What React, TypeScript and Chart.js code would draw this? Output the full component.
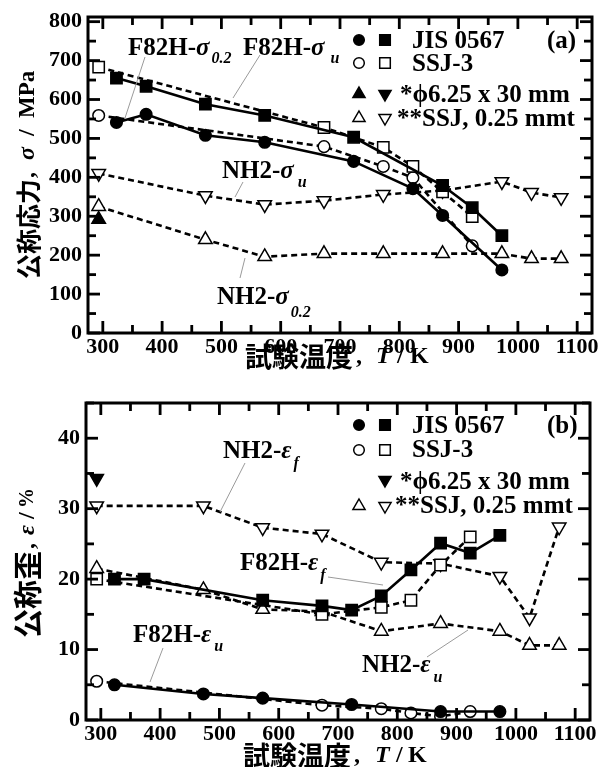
import React, { useEffect, useRef } from 'react';
import { Chart, registerables } from 'chart.js';
Chart.register(...registerables);

const SERIF = '"Liberation Serif", "Times New Roman", serif';
const CJK = '"Noto Sans CJK JP", "Noto Sans CJK SC", sans-serif';

// ---- axes ----
const xTicks = [300, 400, 500, 600, 700, 800, 900, 1000, 1100];
const yTicksA = [0, 100, 200, 300, 400, 500, 600, 700, 800];
const yTicksB = [0, 10, 20, 30, 40];

// ---- panel (a): nominal stress, MPa ----
const tF82H_JIS_su = [323, 373, 473, 573, 723, 873, 923, 973];
const vF82H_JIS_su = [655, 634, 588, 559, 503, 379, 322, 250];
const tF82H_JIS_sy = [323, 373, 473, 573, 723, 823, 873, 973];
const vF82H_JIS_sy = [541, 562, 508, 490, 441, 371, 302, 162];
const tF82H_SSJ_su = [293, 673, 773, 823, 873, 923];
const vF82H_SSJ_su = [683, 528, 477, 428, 363, 299];
const tF82H_SSJ_sy = [293, 673, 773, 823, 923];
const vF82H_SSJ_sy = [559, 479, 428, 399, 224];
const tNH2_su = [293, 473, 573, 673, 773, 873, 973, 1023, 1073];
const vNH2_su = [410, 353, 330, 340, 356, 366, 389, 361, 348];
const tNH2_sy = [293, 473, 573, 673, 773, 873, 973, 1023, 1073];
const vNH2_sy = [325, 240, 196, 204, 204, 204, 204, 191, 191];
const tRod_sy = [293];
const vRod_sy = [292];

// ---- panel (b): nominal strain, % ----
const tNH2_ef = [293, 473, 573, 673, 773, 873, 973, 1023, 1073];
const vNH2_ef = [30.4, 30.4, 27.3, 26.4, 22.4, 22.2, 20.4, 14.5, 27.4];
const tF82H_JIS_ef = [323, 373, 573, 673, 723, 773, 823, 873, 923, 973];
const vF82H_JIS_ef = [20.0, 20.0, 17.0, 16.2, 15.6, 17.6, 21.3, 25.1, 23.7, 26.2];
const tF82H_SSJ_ef = [293, 673, 773, 823, 873, 923];
const vF82H_SSJ_ef = [20.0, 15.0, 16.0, 17.0, 22.0, 26.0];
const tNH2_eu = [293, 473, 573, 673, 773, 873, 973, 1023, 1073];
const vNH2_eu = [21.5, 18.5, 15.7, 15.4, 12.6, 13.7, 12.6, 10.6, 10.6];
const tF82H_JIS_eu = [323, 473, 573, 723, 873, 973];
const vF82H_JIS_eu = [5.0, 3.7, 3.1, 2.2, 1.2, 1.2];
const tF82H_SSJ_eu = [293, 673, 773, 823, 873, 923];
const vF82H_SSJ_eu = [5.5, 2.1, 1.6, 1.0, 0.5, 1.2];
const tRod_ef = [293];
const vRod_ef = [34.3];

// minor tick values for the frame
const xMinorTicks = [300, 350, 400, 450, 500, 550, 600, 650, 700, 750, 800, 850, 900, 950, 1000, 1050, 1100];
const yMinorTicksA = [0, 50, 100, 150, 200, 250, 300, 350, 400, 450, 500, 550, 600, 650, 700, 750, 800];
const yMinorTicksB = [0, 5, 10, 15, 20, 25, 30, 35, 40, 45];

type Mk = 'circle' | 'rect' | 'tri' | 'triDown';

function series(xs: number[], ys: number[], mk: Mk, filled: boolean, line: 'solid' | 'dashed' | 'none') {
  const style = mk === 'circle' ? 'circle' : mk === 'rect' ? 'rect' : 'triangle';
  const r = mk === 'circle' ? 5.8 : mk === 'rect' ? 8 : 7.8;
  return {
    data: xs.map((x, i) => ({ x, y: ys[i] })),
    showLine: line !== 'none',
    borderColor: '#000',
    borderWidth: 2.6,
    borderDash: line === 'dashed' ? [6, 4] : [],
    pointStyle: style,
    pointRotation: mk === 'triDown' ? 180 : 0,
    pointRadius: r,
    pointBackgroundColor: filled ? '#000' : '#fff',
    pointBorderColor: '#000',
    pointBorderWidth: 1.5,
    fill: false,
    tension: 0,
  };
}

const datasetsA = [
  series(tF82H_JIS_su, vF82H_JIS_su, 'rect', true, 'solid'),
  series(tF82H_JIS_sy, vF82H_JIS_sy, 'circle', true, 'solid'),
  series(tF82H_SSJ_su, vF82H_SSJ_su, 'rect', false, 'dashed'),
  series(tF82H_SSJ_sy, vF82H_SSJ_sy, 'circle', false, 'dashed'),
  series(tNH2_su, vNH2_su, 'triDown', false, 'dashed'),
  series(tNH2_sy, vNH2_sy, 'tri', false, 'dashed'),
  series(tRod_sy, vRod_sy, 'tri', true, 'none'),
];

const datasetsB = [
  series(tF82H_JIS_ef, vF82H_JIS_ef, 'rect', true, 'solid'),
  series(tF82H_JIS_eu, vF82H_JIS_eu, 'circle', true, 'solid'),
  series(tF82H_SSJ_ef, vF82H_SSJ_ef, 'rect', false, 'dashed'),
  series(tF82H_SSJ_eu, vF82H_SSJ_eu, 'circle', false, 'dashed'),
  series(tNH2_ef, vNH2_ef, 'triDown', false, 'dashed'),
  series(tNH2_eu, vNH2_eu, 'tri', false, 'dashed'),
  series(tRod_ef, vRod_ef, 'triDown', true, 'none'),
];

function drawMarker(ctx: CanvasRenderingContext2D, mk: Mk, filled: boolean, x: number, y: number) {
  ctx.save();
  ctx.beginPath();
  if (mk === 'circle') {
    ctx.arc(x, y, 5.3, 0, Math.PI * 2);
  } else if (mk === 'rect') {
    ctx.rect(x - 5.3, y - 5.3, 10.6, 10.6);
  } else {
    const r = 7;
    const s = mk === 'tri' ? 1 : -1;
    ctx.moveTo(x, y - s * r);
    ctx.lineTo(x + 0.866 * r, y + s * 0.5 * r);
    ctx.lineTo(x - 0.866 * r, y + s * 0.5 * r);
    ctx.closePath();
  }
  ctx.fillStyle = filled ? '#000' : '#fff';
  ctx.fill();
  ctx.lineWidth = 1.5;
  ctx.strokeStyle = '#000';
  ctx.stroke();
  ctx.restore();
}

type Ann = { x: number; y: number; main: string; sym: string; sub: string; subDx: number; subDy: number };
type Leader = [number, number, number, number];
type LegRow = { y: number; m1?: [Mk, boolean]; m2?: [Mk, boolean]; text: string; tx: number; ty: number };
type Part = { t: string; p: number; font: string };

type Decor = {
  off: number;
  yMajorStep: number;
  yMinor: number[];
  anns: Ann[];
  leaders: Leader[];
  legend: LegRow[];
  panel: { t: string; x: number; y: number };
  xTitle: { y: number; parts: Part[] };
  yTitle: { x: number; parts: Part[] };
};

function makeDecor(d: Decor) {
  return {
    id: 'decor',
    afterDraw(chart: any) {
      const ctx: CanvasRenderingContext2D = chart.ctx;
      const ca = chart.chartArea;
      const left = ca.left, right = ca.right, top = ca.top, bottom = ca.bottom;
      const xs = chart.scales.x;
      const ys = chart.scales.y;

      // ticks (inward on all four sides)
      ctx.save();
      ctx.fillStyle = '#000';
      for (const v of xMinorTicks) {
        const px = xs.getPixelForValue(v);
        const L = v % 100 === 0 ? 12 : 8;
        ctx.fillRect(px - 1.4, bottom - L, 2.8, L);
        ctx.fillRect(px - 1.4, top, 2.8, L);
      }
      for (const v of d.yMinor) {
        const py = ys.getPixelForValue(v);
        const L = v % d.yMajorStep === 0 ? 12 : 8;
        ctx.fillRect(left, py - 1.4, L, 2.8);
        ctx.fillRect(right - L, py - 1.4, L, 2.8);
      }
      ctx.restore();

      ctx.save();
      ctx.setLineDash([]);
      // leaders
      ctx.strokeStyle = '#9a9a9a';
      ctx.lineWidth = 1;
      ctx.beginPath();
      for (const [x1, y1, x2, y2] of d.leaders) {
        ctx.moveTo(x1, y1 - d.off); ctx.lineTo(x2, y2 - d.off);
      }
      ctx.stroke();

      // annotations
      ctx.fillStyle = '#000';
      ctx.textBaseline = 'alphabetic';
      ctx.textAlign = 'left';
      for (const a of d.anns) {
        const y = a.y - d.off;
        ctx.font = `bold 25px ${SERIF}`;
        ctx.fillText(a.main, a.x, y);
        const w1 = ctx.measureText(a.main).width;
        ctx.font = `italic bold 25px ${SERIF}`;
        ctx.fillText(a.sym, a.x + w1, y);
        const w2 = ctx.measureText(a.sym).width;
        ctx.font = `italic bold 16px ${SERIF}`;
        ctx.fillText(a.sub, a.x + w1 + w2 + a.subDx, y + a.subDy);
      }

      // legend
      for (const row of d.legend) {
        if (row.m1) drawMarker(ctx, row.m1[0], row.m1[1], 359, row.y - d.off);
        if (row.m2) drawMarker(ctx, row.m2[0], row.m2[1], 385, row.y - d.off);
        ctx.fillStyle = '#000';
        ctx.font = `bold 25px ${SERIF}`;
        ctx.fillText(row.text, row.tx, row.ty - d.off);
      }
      ctx.font = `bold 25px ${SERIF}`;
      ctx.fillText(d.panel.t, d.panel.x, d.panel.y - d.off);

      // x title
      ctx.textBaseline = 'middle';
      for (const p of d.xTitle.parts) {
        ctx.font = p.font;
        ctx.fillText(p.t, p.p, d.xTitle.y - d.off);
      }
      // y title (rotated)
      for (const p of d.yTitle.parts) {
        ctx.save();
        ctx.translate(d.yTitle.x, p.p - d.off);
        ctx.rotate(-Math.PI / 2);
        ctx.font = p.font;
        ctx.fillText(p.t, 0, 0);
        ctx.restore();
      }

      // frame
      ctx.strokeStyle = '#000';
      ctx.lineWidth = 3;
      ctx.strokeRect(left, top, right - left, bottom - top);
      ctx.restore();
    },
  };
}

const F_CJK = `bold 27px ${CJK}`;
const F_S = `bold 24px ${SERIF}`;
const F_SI = `italic bold 24px ${SERIF}`;

const decorA: Decor = {
  off: 0,
  yMajorStep: 100,
  yMinor: yMinorTicksA,
  anns: [
    { x: 128, y: 55, main: 'F82H-', sym: 'σ', sub: '0.2', subDx: 2, subDy: 8 },
    { x: 243, y: 55, main: 'F82H-', sym: 'σ', sub: 'u', subDx: 6, subDy: 8 },
    { x: 222, y: 178, main: 'NH2-', sym: 'σ', sub: 'u', subDx: 4, subDy: 9 },
    { x: 217, y: 304, main: 'NH2-', sym: 'σ', sub: '0.2', subDx: 2, subDy: 13 },
  ],
  leaders: [
    [145, 57, 125, 118],
    [260, 55, 233, 98],
    [243, 182, 235, 197],
    [245, 258, 240, 278],
  ],
  legend: [
    { y: 40, m1: ['circle', true], m2: ['rect', true], text: 'JIS 0567', tx: 412, ty: 48 },
    { y: 63, m1: ['circle', false], m2: ['rect', false], text: 'SSJ-3', tx: 412, ty: 71 },
    { y: 94, m1: ['tri', true], m2: ['triDown', true], text: '*ϕ6.25 x 30 mm', tx: 400, ty: 102 },
    { y: 118, m1: ['tri', false], m2: ['triDown', false], text: '**SSJ, 0.25 mmt', tx: 397, ty: 126 },
  ],
  panel: { t: '(a)', x: 547, y: 48 },
  xTitle: {
    y: 357,
    parts: [
      { t: '試験温度', p: 245, font: F_CJK },
      { t: ',', p: 356, font: F_S },
      { t: 'T', p: 376, font: F_SI },
      { t: '/', p: 397, font: F_S },
      { t: 'K', p: 410, font: F_S },
    ],
  },
  yTitle: {
    x: 28,
    parts: [
      { t: '公称応力', p: 279, font: `bold 25px ${CJK}` },
      { t: ',', p: 178, font: F_S },
      { t: 'σ', p: 160, font: F_SI },
      { t: '/', p: 136, font: F_S },
      { t: 'MPa', p: 118, font: `bold 23px ${SERIF}` },
    ],
  },
};

const decorB: Decor = {
  off: 380,
  yMajorStep: 10,
  yMinor: yMinorTicksB,
  anns: [
    { x: 223, y: 458, main: 'NH2-', sym: 'ε', sub: 'f', subDx: 2, subDy: 10 },
    { x: 240, y: 570, main: 'F82H-', sym: 'ε', sub: 'f', subDx: 2, subDy: 10 },
    { x: 133, y: 642, main: 'F82H-', sym: 'ε', sub: 'u', subDx: 3, subDy: 9 },
    { x: 362, y: 672, main: 'NH2-', sym: 'ε', sub: 'u', subDx: 3, subDy: 10 },
  ],
  leaders: [
    [245, 463, 220, 512],
    [328, 577, 383, 585],
    [163, 648, 150, 682],
    [427, 657, 468, 630],
  ],
  legend: [
    { y: 425, m1: ['circle', true], m2: ['rect', true], text: 'JIS 0567', tx: 412, ty: 433 },
    { y: 450, m1: ['circle', false], m2: ['rect', false], text: 'SSJ-3', tx: 412, ty: 457 },
    { y: 480, m2: ['triDown', true], text: '*ϕ6.25 x 30 mm', tx: 400, ty: 489 },
    { y: 506, m1: ['tri', false], m2: ['triDown', false], text: '**SSJ, 0.25 mmt', tx: 395, ty: 513 },
  ],
  panel: { t: '(b)', x: 547, y: 433 },
  xTitle: {
    y: 756,
    parts: [
      { t: '試験温度', p: 243, font: F_CJK },
      { t: ',', p: 354, font: F_S },
      { t: 'T', p: 375, font: F_SI },
      { t: '/', p: 396, font: F_S },
      { t: 'K', p: 408, font: F_S },
    ],
  },
  yTitle: {
    x: 28,
    parts: [
      { t: '公称歪', p: 638, font: `bold 29px ${CJK}` },
      { t: ',', p: 549, font: F_S },
      { t: 'ε', p: 535, font: F_SI },
      { t: '/', p: 519, font: F_S },
      { t: '%', p: 508, font: `bold 20px ${SERIF}` },
    ],
  },
};

function makeConfig(datasets: any[], yMax: number, yTicks: number[], padTop: number, padRight: number, yWidth: number, xHeight: number, decor: Decor) {
  return {
    type: 'line',
    data: { datasets },
    options: {
      animation: false,
      responsive: false,
      maintainAspectRatio: false,
      layout: { padding: { top: padTop, right: padRight, left: 0, bottom: 0 } },
      plugins: { legend: { display: false }, tooltip: { enabled: false }, title: { display: false } },
      scales: {
        x: {
          type: 'linear',
          min: 275,
          max: 1125,
          grid: { display: false, drawTicks: false },
          border: { display: false },
          afterBuildTicks: (s: any) => { s.ticks = xTicks.map((v) => ({ value: v })); },
          afterFit: (s: any) => { s.height = xHeight; s.paddingLeft = 0; s.paddingRight = 0; },
          ticks: {
            color: '#000', font: { family: SERIF, size: 22, weight: 'bold' }, padding: 1, maxRotation: 0, autoSkip: false,
            callback: (v: any) => String(v),
          },
        },
        y: {
          type: 'linear',
          min: 0,
          max: yMax,
          grid: { display: false, drawTicks: false },
          border: { display: false },
          afterBuildTicks: (s: any) => { s.ticks = yTicks.map((v) => ({ value: v })); },
          afterFit: (s: any) => { s.width = yWidth; s.paddingTop = 0; s.paddingBottom = 0; },
          ticks: {
            color: '#000', font: { family: SERIF, size: 22, weight: 'bold' }, padding: 6, autoSkip: false,
            callback: (v: any) => String(v),
          },
        },
      },
    },
    plugins: [makeDecor(decor)],
  };
}

export default function App() {
  const refA = useRef<HTMLCanvasElement>(null);
  const refB = useRef<HTMLCanvasElement>(null);
  useEffect(() => {
    const a = new Chart(refA.current as HTMLCanvasElement, makeConfig(datasetsA, 812, yTicksA, 17, 11, 88, 47, decorA) as any);
    const b = new Chart(refB.current as HTMLCanvasElement, makeConfig(datasetsB, 45, yTicksB, 23, 13, 86, 47, decorB) as any);
    return () => { a.destroy(); b.destroy(); };
  }, []);
  return (
    <div style={{ position: 'absolute', left: 0, top: 0, width: 603, height: 767, background: '#fff' }}>
      <canvas ref={refA} width={603} height={380} style={{ position: 'absolute', left: 0, top: 0, width: 603, height: 380 }} />
      <canvas ref={refB} width={603} height={387} style={{ position: 'absolute', left: 0, top: 380, width: 603, height: 387 }} />
    </div>
  );
}
